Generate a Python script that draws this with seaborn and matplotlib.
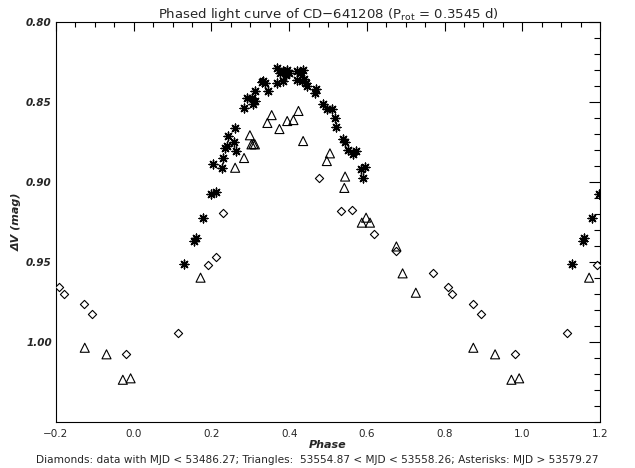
import numpy as np
import pandas as pd
import matplotlib
matplotlib.use("Agg")
import matplotlib.pyplot as plt
import seaborn as sns
from matplotlib.ticker import MultipleLocator, FixedLocator, FixedFormatter

# ---- data (phase in [0,1), delta V mag) ----
dia_phase = [0.115, 0.192, 0.212, 0.231, 0.478, 0.533, 0.562, 0.619, 0.675,
             0.771, 0.809, 0.820, 0.872, 0.893, 0.980]
dia_mag = [0.9946, 0.9519, 0.9469, 0.9192, 0.8977, 0.9183, 0.9172, 0.9325, 0.9431,
           0.9571, 0.9654, 0.9702, 0.9761, 0.9823, 1.0073]

tri_phase = [0.172, 0.261, 0.284, 0.299, 0.303, 0.308, 0.312, 0.344, 0.355, 0.375,
             0.395, 0.411, 0.424, 0.436, 0.505, 0.497, 0.544, 0.542, 0.587, 0.598,
             0.608, 0.676, 0.692, 0.726, 0.874, 0.930, 0.972, 0.992]
tri_mag = [0.9598, 0.8911, 0.8850, 0.8708, 0.8765, 0.8762, 0.8765, 0.8631, 0.8582, 0.8669,
           0.8619, 0.8613, 0.8556, 0.8744, 0.8821, 0.8869, 0.8966, 0.9037, 0.9254, 0.9223,
           0.9254, 0.9403, 0.9571, 0.9692, 1.0036, 1.0077, 1.0236, 1.0227]

ast_phase = [0.129, 0.156, 0.160, 0.179, 0.198, 0.213, 0.205, 0.226, 0.231, 0.235,
             0.239, 0.243, 0.258, 0.263, 0.261, 0.285, 0.291, 0.304, 0.312, 0.308,
             0.312, 0.346, 0.333, 0.338, 0.329, 0.368, 0.368, 0.376, 0.385, 0.395,
             0.400, 0.392, 0.385, 0.419, 0.428, 0.436, 0.419, 0.432, 0.438, 0.443,
             0.447, 0.469, 0.466, 0.488, 0.497, 0.510, 0.518, 0.521, 0.539, 0.544,
             0.552, 0.565, 0.571, 0.585, 0.596, 0.590]
ast_mag = [0.9510, 0.9370, 0.9350, 0.9223, 0.9077, 0.9061, 0.8889, 0.8911, 0.8848, 0.8786,
           0.8775, 0.8712, 0.8750, 0.8806, 0.8661, 0.8536, 0.8477, 0.8473, 0.8494, 0.8511,
           0.8431, 0.8431, 0.8369, 0.8379, 0.8375, 0.8379, 0.8286, 0.8317, 0.8306, 0.8300,
           0.8317, 0.8333, 0.8369, 0.8306, 0.8321, 0.8300, 0.8363, 0.8369, 0.8354, 0.8379,
           0.8400, 0.8421, 0.8446, 0.8514, 0.8546, 0.8546, 0.8602, 0.8659, 0.8734, 0.8750,
           0.8800, 0.8822, 0.8806, 0.8916, 0.8909, 0.8978]

x_ticks = [-0.2, 0.0, 0.2, 0.4, 0.6, 0.8, 1.0, 1.2]
y_ticks = [0.80, 0.85, 0.90, 0.95, 1.00]
y_ticklabels = ["0.80", "0.85", "0.90", "0.95", "1.00"]

title = "Phased light curve of CD\u2212641208 (P$_{\\rm rot}$ = 0.3545 d)"
caption = ("Diamonds: data with MJD < 53486.27; Triangles:  53554.87 < MJD < 53558.26; "
           "Asterisks: MJD > 53579.27")


def fold(ph, mg):
    ph = np.asarray(ph, float)
    mg = np.asarray(mg, float)
    p = np.concatenate([ph - 1, ph, ph + 1])
    m = np.tile(mg, 3)
    keep = (p >= -0.2) & (p <= 1.2)
    return pd.DataFrame({"phase": p[keep], "mag": m[keep]})


dia = fold(dia_phase, dia_mag)
tri = fold(tri_phase, tri_mag)
ast = fold(ast_phase, ast_mag)

sns.set_theme(style="white")
plt.rcParams["font.family"] = ["DejaVu Sans"]

fig = plt.figure(figsize=(6.35, 4.68), dpi=100)
ax = fig.add_axes([56 / 635, 1 - 422 / 468, 544 / 635, 400 / 468])

sns.scatterplot(data=dia, x="phase", y="mag", ax=ax, marker="D", s=4.2 ** 2,
                facecolor="white", edgecolor="black", linewidth=0.8, zorder=3)
sns.scatterplot(data=tri, x="phase", y="mag", ax=ax, marker="^", s=6.5 ** 2,
                facecolor="none", edgecolor="black", linewidth=0.8, zorder=3)
sns.scatterplot(data=ast, x="phase", y="mag", ax=ax, marker=(8, 2, 0), s=6.3 ** 2,
                color="black", edgecolor="black", linewidth=1.0, zorder=4)

ax.set_xlim(-0.2, 1.2)
ax.set_ylim(1.05, 0.80)

ax.xaxis.set_major_locator(FixedLocator(x_ticks))
ax.xaxis.set_minor_locator(MultipleLocator(0.05))
ax.yaxis.set_major_locator(FixedLocator(y_ticks))
ax.yaxis.set_major_formatter(FixedFormatter(y_ticklabels))
ax.yaxis.set_minor_locator(MultipleLocator(0.01))
ax.set_xticklabels([f"{t:.1f}".replace("-", "\u2212") for t in x_ticks])

ax.tick_params(axis="both", which="both", direction="in", top=True, right=True,
               color="black", width=0.8)
ax.tick_params(axis="x", which="major", length=6.5, labelsize=7.5, pad=5)
ax.tick_params(axis="x", which="minor", length=3.3)
ax.tick_params(axis="y", which="major", length=8, labelsize=7.5, pad=3)
ax.tick_params(axis="y", which="minor", length=4)
for lab in ax.get_yticklabels():
    lab.set_fontstyle("italic")
    lab.set_fontweight("bold")

for sp in ax.spines.values():
    sp.set_color("black")
    sp.set_linewidth(0.8)

ax.set_xlabel("Phase", fontsize=8, fontstyle="italic", fontweight="bold", labelpad=1)
ax.set_ylabel("\u0394V (mag)", fontsize=8, fontstyle="italic", fontweight="bold", labelpad=3)
ax.set_title(title, fontsize=9.5, pad=3)
fig.text(0.5, 0.006, caption, ha="center", va="bottom", fontsize=7.6)

fig.savefig("out.png", dpi=100, facecolor="white")
